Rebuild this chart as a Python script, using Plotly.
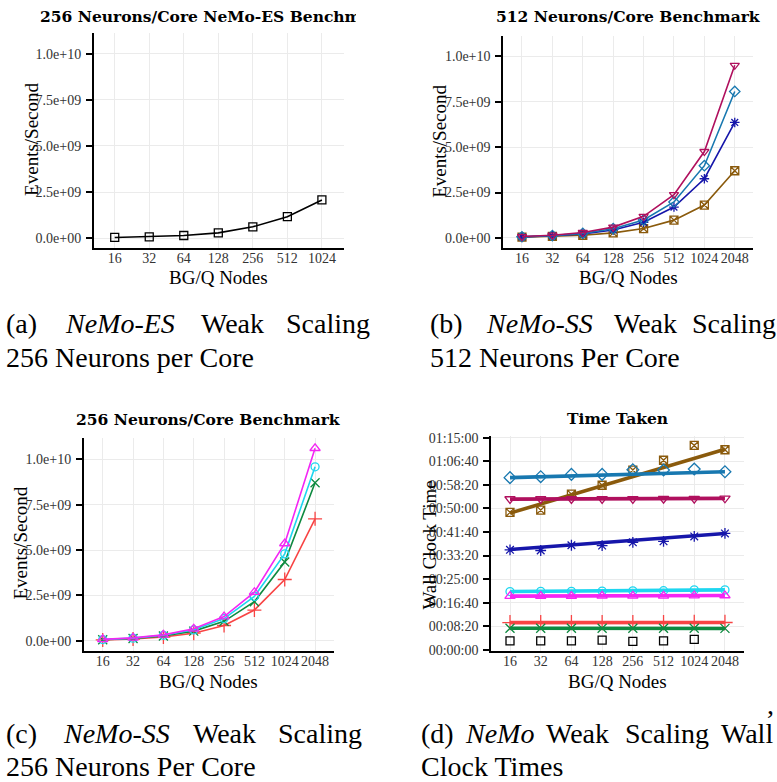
import plotly.graph_objects as go

# ---------------- data ----------------
nodes_es = ["16", "32", "64", "128", "256", "512", "1024"]
nodes_ss = ["16", "32", "64", "128", "256", "512", "1024", "2048"]

# (a) NeMo-ES, 256 neurons/core, events per second
es256_rate = [0.035e9, 0.07e9, 0.14e9, 0.28e9, 0.61e9, 1.16e9, 2.07e9]

# (b) NeMo-SS, 512 neurons/core, events per second
ss512_sqx = [0.042e9, 0.083e9, 0.148e9, 0.28e9, 0.515e9, 0.98e9, 1.81e9, 3.70e9]
ss512_star = [0.058e9, 0.116e9, 0.22e9, 0.44e9, 0.86e9, 1.70e9, 3.26e9, 6.36e9]
ss512_diam = [0.065e9, 0.128e9, 0.25e9, 0.51e9, 0.99e9, 1.98e9, 3.98e9, 8.07e9]
ss512_tri = [0.075e9, 0.149e9, 0.298e9, 0.596e9, 1.19e9, 2.38e9, 4.76e9, 9.51e9]

# (c) NeMo-SS, 256 neurons/core, events per second
ss256_plus = [0.053e9, 0.106e9, 0.213e9, 0.425e9, 0.85e9, 1.70e9, 3.38e9, 6.72e9]
ss256_x = [0.068e9, 0.135e9, 0.27e9, 0.54e9, 1.08e9, 2.16e9, 4.34e9, 8.70e9]
ss256_circ = [0.077e9, 0.153e9, 0.31e9, 0.61e9, 1.23e9, 2.45e9, 4.79e9, 9.58e9]
ss256_tri = [0.084e9, 0.168e9, 0.335e9, 0.67e9, 1.34e9, 2.68e9, 5.36e9, 10.6e9]

# (d) wall clock seconds per run, plus fitted trend (first node, last node)
wall_es256 = [194, 194, 194, 209, 182, 194, 223]
wall_ss256_x = [460, 459, 460, 459, 459, 458, 458, 457]
wall_ss256_x_fit = [460, 456]
wall_ss256_plus = [578, 579, 578, 580, 579, 580, 581, 582]
wall_ss256_plus_fit = [578, 583]
wall_ss256_tri = [1141, 1143, 1143, 1146, 1146, 1148, 1150, 1154]
wall_ss256_tri_fit = [1141, 1154]
wall_ss256_circ = [1238, 1241, 1243, 1248, 1252, 1256, 1273, 1273]
wall_ss256_circ_fit = [1238, 1273]
wall_ss512_star = [2122, 2108, 2219, 2212, 2281, 2302, 2406, 2469]
wall_ss512_star_fit = [2129, 2469]
wall_ss512_tri = [3199, 3199, 3199, 3201, 3203, 3205, 3207, 3214]
wall_ss512_tri_fit = [3197, 3212]
wall_ss512_diam = [3652, 3673, 3721, 3721, 3819, 3813, 3834, 3777]
wall_ss512_diam_fit = [3652, 3777]
wall_ss512_sqx = [2915, 2963, 3303, 3491, 3813, 4021, 4334, 4243]
wall_ss512_sqx_fit = [2900, 4255]

rate_ticks = [0, 2.5e9, 5e9, 7.5e9, 1e10]
rate_ticktext = ["0.0e+00", "2.5e+09", "5.0e+09", "7.5e+09", "1.0e+10"]
time_ticks = [0, 500, 1000, 1500, 2000, 2500, 3000, 3500, 4000, 4500]
time_ticktext = ["00:00:00", "00:08:20", "00:16:40", "00:25:00", "00:33:20",
                 "00:41:40", "00:50:00", "00:58:20", "01:06:40", "01:15:00"]

# ---------------- styling ----------------
W, H = 777, 782
SERIF = "Liberation Serif"
BOLD = "DejaVu Serif"

C_BROWN = "#8a5a0c"
C_TEAL = "#1878b0"
C_CRIMSON = "#b0105e"
C_NAVY = "#1616aa"
C_CYAN = "#1ed6f0"
C_MAGENTA = "#f426f4"
C_GREEN = "#0e8a40"
C_RED = "#f84444"


def px(x):
    return x / W


def py(y):
    return 1 - y / H


fig = go.Figure()


def series(xa, ya, x, y, color, symbol, size=8, lw=1.6, mode="lines+markers"):
    fig.add_trace(go.Scatter(
        x=x, y=y, mode=mode, xaxis=xa, yaxis=ya,
        line=dict(color=color, width=lw),
        marker=dict(symbol=symbol, size=size, color=color,
                    line=dict(color=color, width=1.3)),
        showlegend=False, hoverinfo="skip"))


# (a)
series("x", "y", nodes_es, es256_rate, "black", "square-open", size=8, lw=1.6)

# (b)
series("x2", "y2", nodes_ss, ss512_sqx, C_BROWN, "square-x-open")
series("x2", "y2", nodes_ss, ss512_star, C_NAVY, "asterisk-open")
series("x2", "y2", nodes_ss, ss512_diam, C_TEAL, "diamond-open")
series("x2", "y2", nodes_ss, ss512_tri, C_CRIMSON, "triangle-down-open")

# (c)
series("x3", "y3", nodes_ss, ss256_plus, C_RED, "cross-thin-open", size=10)
series("x3", "y3", nodes_ss, ss256_x, C_GREEN, "x-thin-open", size=9)
series("x3", "y3", nodes_ss, ss256_circ, C_CYAN, "circle-open")
series("x3", "y3", nodes_ss, ss256_tri, C_MAGENTA, "triangle-up-open", size=9)

# (d) points with fitted trend lines
wall_sets = [
    (wall_ss512_sqx, wall_ss512_sqx_fit, C_BROWN, "square-x-open", 8),
    (wall_ss512_diam, wall_ss512_diam_fit, C_TEAL, "diamond-open", 9),
    (wall_ss512_tri, wall_ss512_tri_fit, C_CRIMSON, "triangle-down-open", 9),
    (wall_ss512_star, wall_ss512_star_fit, C_NAVY, "asterisk-open", 9),
    (wall_ss256_circ, wall_ss256_circ_fit, C_CYAN, "circle-open", 8),
    (wall_ss256_tri, wall_ss256_tri_fit, C_MAGENTA, "triangle-up-open", 9),
    (wall_ss256_plus, wall_ss256_plus_fit, C_RED, "cross-thin-open", 11),
    (wall_ss256_x, wall_ss256_x_fit, C_GREEN, "x-thin-open", 9),
]
for pts, fit, col, sym, sz in wall_sets:
    series("x4", "y4", nodes_ss, pts, col, sym, size=sz, mode="markers")
    fig.add_trace(go.Scatter(
        x=[nodes_ss[0], nodes_ss[-1]], y=fit, mode="lines", xaxis="x4", yaxis="y4",
        line=dict(color=col, width=3.6), showlegend=False, hoverinfo="skip"))
series("x4", "y4", nodes_es, wall_es256, "black", "square-open", size=8, mode="markers")

# ---------------- axes ----------------
panels = {
    # name: (x0, x1, ytop, ybottom, xrange)
    "1": (94, 344, 28, 247, [-0.6, 6.64]),
    "2": (503.3, 753, 31, 246.7, [-0.615, 7.6]),
    "3": (84, 334, 440, 656, [-0.617, 7.624]),
    "4": (491.3, 744, 437.7, 656, [-0.609, 7.62]),
}
tickfont = dict(family=SERIF, size=14, color="#333333")
grid = "#ebebeb"
for k, (x0, x1, yt, yb, xr) in panels.items():
    suffix = "" if k == "1" else k
    xa = dict(domain=[px(x0), px(x1)], anchor="y" + suffix, type="category",
              range=xr, showline=True, linecolor="black", linewidth=2,
              showgrid=True, gridcolor=grid, gridwidth=1.2, ticks="",
              tickangle=0, tickfont=tickfont, zeroline=False,
              ticklabelstandoff=-4, fixedrange=True)
    ya = dict(domain=[py(yb), py(yt)], anchor="x" + suffix,
              showline=True, linecolor="black", linewidth=2,
              showgrid=True, gridcolor=grid, gridwidth=1.2,
              ticks="outside", ticklen=6, tickwidth=1.5, tickcolor="black",
              tickfont=tickfont, zeroline=False, ticklabelstandoff=2,
              fixedrange=True)
    if k == "4":
        ya.update(range=[-21, 4535], tickvals=time_ticks, ticktext=time_ticktext)
    else:
        ya.update(range=[-0.55e9, 11.15e9], tickvals=rate_ticks, ticktext=rate_ticktext)
    fig.layout["xaxis" + suffix] = xa
    fig.layout["yaxis" + suffix] = ya

# ---------------- text ----------------
ann = []


def text(x, y, s, size, family=SERIF, xanchor="center", angle=0, color="black", **kw):
    ann.append(dict(x=px(x), y=py(y), xref="paper", yref="paper", text=s,
                    showarrow=False, xanchor=xanchor, yanchor="middle",
                    textangle=angle, borderpad=0,
                    font=dict(family=family, size=size, color=color), **kw))


# panel titles
text(39, 12, "<b>256 Neurons/Core NeMo-ES Benchmark</b>", 15.5, family=BOLD,
     xanchor="left", width=316, align="left")
text(627.5, 12, "<b>512 Neurons/Core Benchmark</b>", 15.5, family=BOLD)
text(208, 421, "<b>256 Neurons/Core Benchmark</b>", 15.5, family=BOLD)
text(617.5, 420, "<b>Time Taken</b>", 15.5, family=BOLD)

# axis titles
for (x, y) in [(218, 277), (628, 277), (208, 687), (617, 687)]:
    text(x, y, "BG/Q Nodes", 19)
for (x, y) in [(32, 137), (440, 139), (21, 547)]:
    text(x, y, "Events/Second", 19, angle=-90)
text(430, 549, "Wall Clock Time", 19, angle=-90)

# captions (first lines are justified word by word)
CAP = 28
for x, s in [(5, "(a)"), (64, "<i>NeMo-ES</i>"), (200, "Weak"), (285, "Scaling")]:
    text(x, 323, s, CAP, xanchor="left")
text(5, 358, "256 Neurons per Core", CAP, xanchor="left")
for x, s in [(429, "(b)"), (485, "<i>NeMo-SS</i>"), (613, "Weak"), (691, "Scaling")]:
    text(x, 323, s, CAP, xanchor="left")
text(429, 358, "512 Neurons Per Core", CAP, xanchor="left")
for x, s in [(5, "(c)"), (62, "<i>NeMo-SS</i>"), (192, "Weak"), (277, "Scaling")]:
    text(x, 740, s, CAP, xanchor="left")
text(5, 773, "256 Neurons Per Core", CAP, xanchor="left")
for x, s in [(420, "(d)"), (464, "<i>NeMo</i>"), (545, "Weak"), (624, "Scaling"), (720, "Wall")]:
    text(x, 740, s, CAP, xanchor="left")
text(420, 773, "Clock Times", CAP, xanchor="left")
text(770, 710, ",", CAP)

fig.update_layout(
    width=W, height=H, margin=dict(l=0, r=0, t=0, b=0),
    paper_bgcolor="white", plot_bgcolor="white",
    annotations=ann, showlegend=False,
)

fig.write_html("out.html", config={"displayModeBar": False})
